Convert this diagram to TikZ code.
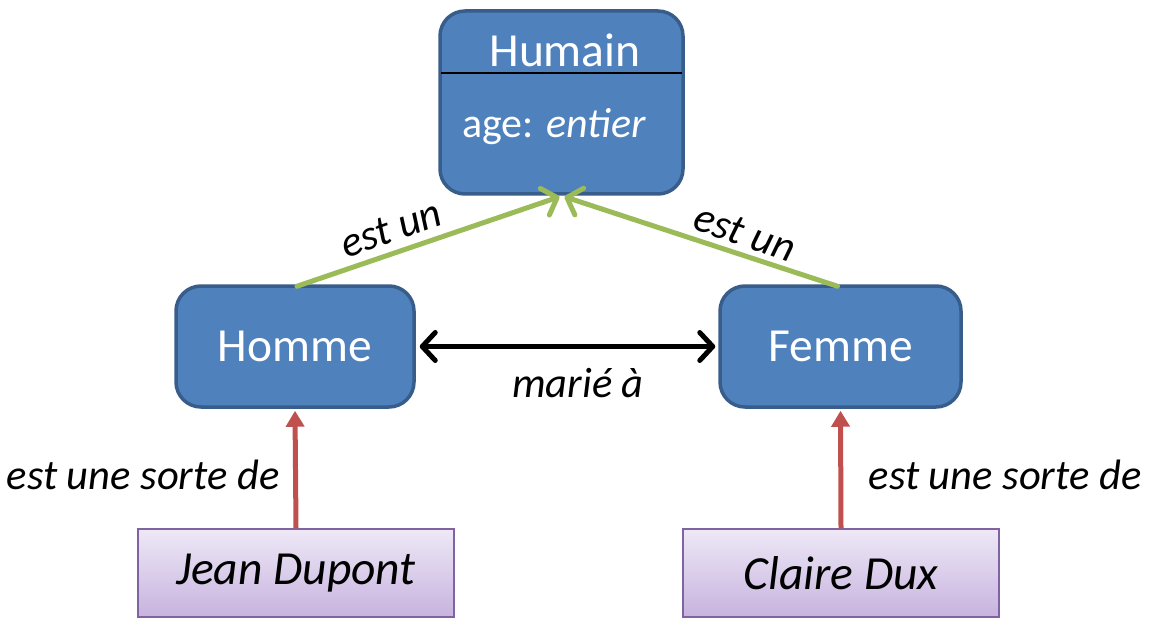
\documentclass[tikz,border=0pt]{standalone}
\usepackage{fontspec}
\setmainfont{Carlito}
\usetikzlibrary{arrows.meta,calc}
\definecolor{boxblue}{HTML}{4F81BD}
\definecolor{boxedge}{HTML}{385D8A}
\definecolor{isagreen}{HTML}{9BBB59}
\definecolor{kindred}{HTML}{C0504D}
\definecolor{instedge}{HTML}{8064A2}
\definecolor{insttop}{HTML}{EEE8F6}
\definecolor{instbot}{HTML}{C7B3DF}
\tikzset{
  barb/.tip={Straight Barb[length=13pt,width=28pt,line width=5pt,line cap=round,line join=round]},
  classbox/.style={draw=boxedge, fill=boxblue, line width=3.5pt, rounded corners=25pt,
    text=white, font=\fontsize{47.5}{52}\selectfont, inner sep=0pt},
  instbox/.style={draw=instedge, line width=1.5pt, top color=insttop, bottom color=instbot,
    font=\fontsize{47.5}{52}\selectfont\itshape, inner sep=0pt},
  isarrow/.style={draw=isagreen, line width=5pt, line cap=round, -{barb}},
  kindarrow/.style={draw=kindred, line width=5pt, -{Triangle[length=16pt,width=18pt]}},
  relarrow/.style={draw=black, line width=5pt, line cap=round, {barb}-{barb}},
  lbl/.style={font=\fontsize{42.5}{46}\selectfont\itshape, inner sep=0pt}
}
\begin{document}
\begin{tikzpicture}[x=1pt,y=-1pt]
\useasboundingbox (0,0) rectangle (1153,620);

% class boxes
\node[classbox, minimum width=243pt, minimum height=183pt] (humain) at (561.5,102.5) {};
\draw[line width=2pt] (441,73) -- (682,73);
\node[text=white, font=\fontsize{47.5}{52}\selectfont, inner sep=0pt] (humaintitle) at (565,50) {Humain};
\node[text=white, font=\fontsize{42}{46}\selectfont, inner sep=0pt] (humainattr) at (554,127) {age: \textit{entier}};

\node[classbox, minimum width=238pt, minimum height=121pt] (homme) at (295,346.5) {Homme};
\node[classbox, minimum width=241pt, minimum height=121pt] (femme) at (840.5,346.5) {Femme};

% instance boxes
\node[instbox, minimum width=316pt, minimum height=88pt] (jean) at (296,573) {Jean Dupont};
\node[instbox, minimum width=316pt, minimum height=88pt] (claire) at (841,573) {Claire Dux};

% generalisation links
\draw[isarrow] ($(homme.north)+(2,2)$) -- ($(humain.south)+(-2,1)$);
\draw[isarrow] ($(femme.north)+(-3,2)$) -- ($(humain.south)+(3,1)$);
\node[lbl, rotate=19] (isaleft) at (391,229) {est un};
\node[lbl, rotate=-19] (isaright) at (745,233) {est un};

% marriage link
\draw[relarrow] ($(homme.east)+(4,0)$) -- ($(femme.west)+(-3,0)$);
\node[lbl] (married) at (578,383) {marié à};

% instance-of links
\draw[kindarrow] (jean.north) -- ($(homme.south)+(0,2)$);
\draw[kindarrow] (claire.north) -- ($(femme.south)+(0,2)$);
\node[lbl] (kindleft) at (143,475) {est une sorte de};
\node[lbl] (kindright) at (1005,475) {est une sorte de};
\end{tikzpicture}
\end{document}
